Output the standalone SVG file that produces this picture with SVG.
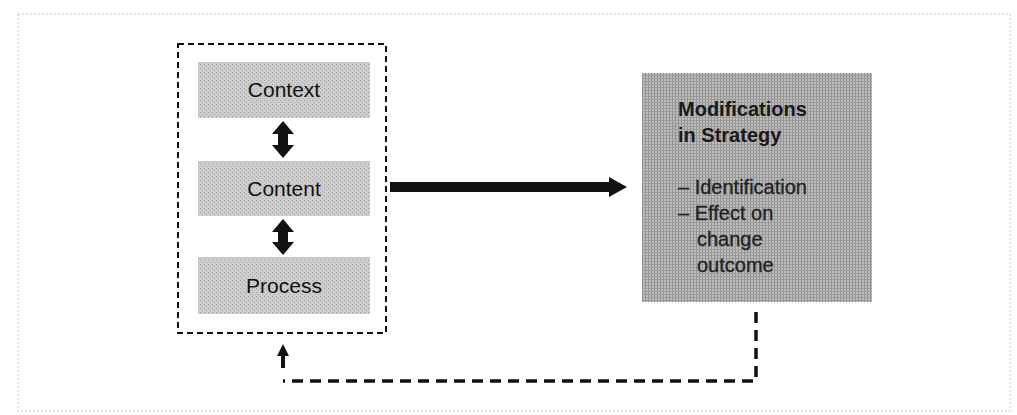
<svg xmlns="http://www.w3.org/2000/svg" width="1017" height="415" viewBox="0 0 1017 415">
  <defs>
    <!-- halftone-like textures for the shaded boxes -->
    <pattern id="tex-light" width="4" height="4" patternUnits="userSpaceOnUse">
      <rect width="4" height="4" fill="#cdcdcd"/>
      <rect x="0" y="0" width="1" height="1" fill="#a0a0a0"/>
      <rect x="2" y="2" width="1" height="1" fill="#acacac"/>
    </pattern>
    <pattern id="tex-dark" width="3" height="3" patternUnits="userSpaceOnUse">
      <rect width="3" height="3" fill="#bdbdbd"/>
      <rect x="0" y="0" width="1" height="3" fill="#909090"/>
      <rect x="0" y="0" width="3" height="1" fill="#9c9c9c"/>
    </pattern>
  </defs>
  <style>
    .frame { fill: none; stroke: #c4c4c4; stroke-width: 1; stroke-dasharray: 2 2; }
    .group-box { fill: none; stroke: #111; stroke-width: 2; stroke-dasharray: 6 4; }
    .stage { fill: url(#tex-light); }
    .stage-label { font-family: "Liberation Sans", Arial, sans-serif; font-size: 21px; fill: #111; text-anchor: middle; }
    .result { fill: url(#tex-dark); }
    .result-title { font-family: "Liberation Sans", Arial, sans-serif; font-size: 20px; font-weight: bold; fill: #1a1a1a; }
    .result-item { font-family: "Liberation Sans", Arial, sans-serif; font-size: 20px; fill: #222; stroke: #222; stroke-width: 0.3; }
    .solid { fill: #111; }
    .feedback { fill: none; stroke: #111; stroke-width: 3.5; stroke-dasharray: 11 7; }
  </style>

  <rect width="1017" height="415" fill="#fff"/>

  <!-- outer page frame -->
  <rect class="frame" x="18" y="14" width="992" height="397"/>

  <!-- dashed grouping box around the three stages -->
  <rect id="stages" class="group-box" x="178" y="44" width="208" height="289"/>

  <g id="context">
    <rect class="stage" x="198" y="62" width="172" height="56"/>
    <text class="stage-label" x="284" y="97">Context</text>
  </g>

  <g id="content">
    <rect class="stage" x="198" y="161" width="172" height="55"/>
    <text class="stage-label" x="284" y="196">Content</text>
  </g>

  <g id="process">
    <rect class="stage" x="198" y="257" width="172" height="57"/>
    <text class="stage-label" x="284" y="293">Process</text>
  </g>

  <g id="modifications">
    <rect class="result" x="642" y="73" width="230" height="229"/>
    <text class="result-title" x="678" y="116">Modifications</text>
    <text class="result-title" x="678" y="142">in Strategy</text>
    <text class="result-item" x="678" y="194">– Identification</text>
    <text class="result-item" x="678" y="220">– Effect on</text>
    <text class="result-item" x="697" y="246">change</text>
    <text class="result-item" x="697" y="272">outcome</text>
  </g>

  <g id="connectors">
    <!-- Context <-> Content -->
    <polygon class="solid" points="283,121 294,134 288,134 288,145 294,145 283,158 272,145 278,145 278,134 272,134"/>
    <!-- Content <-> Process -->
    <polygon class="solid" points="283,219 294,232 288,232 288,242 294,242 283,255 272,242 278,242 278,232 272,232"/>
    <!-- stages -> modifications -->
    <polygon class="solid" points="390,182 609,182 609,177 627,187 609,197 609,192 390,192"/>
    <!-- feedback loop back to the stages -->
    <path class="feedback" d="M756,312 V381 H283"/>
    <line x1="283" y1="368" x2="283" y2="354" stroke="#111" stroke-width="4"/>
    <polygon class="solid" points="283,344 289,356 277,356"/>
  </g>
</svg>
